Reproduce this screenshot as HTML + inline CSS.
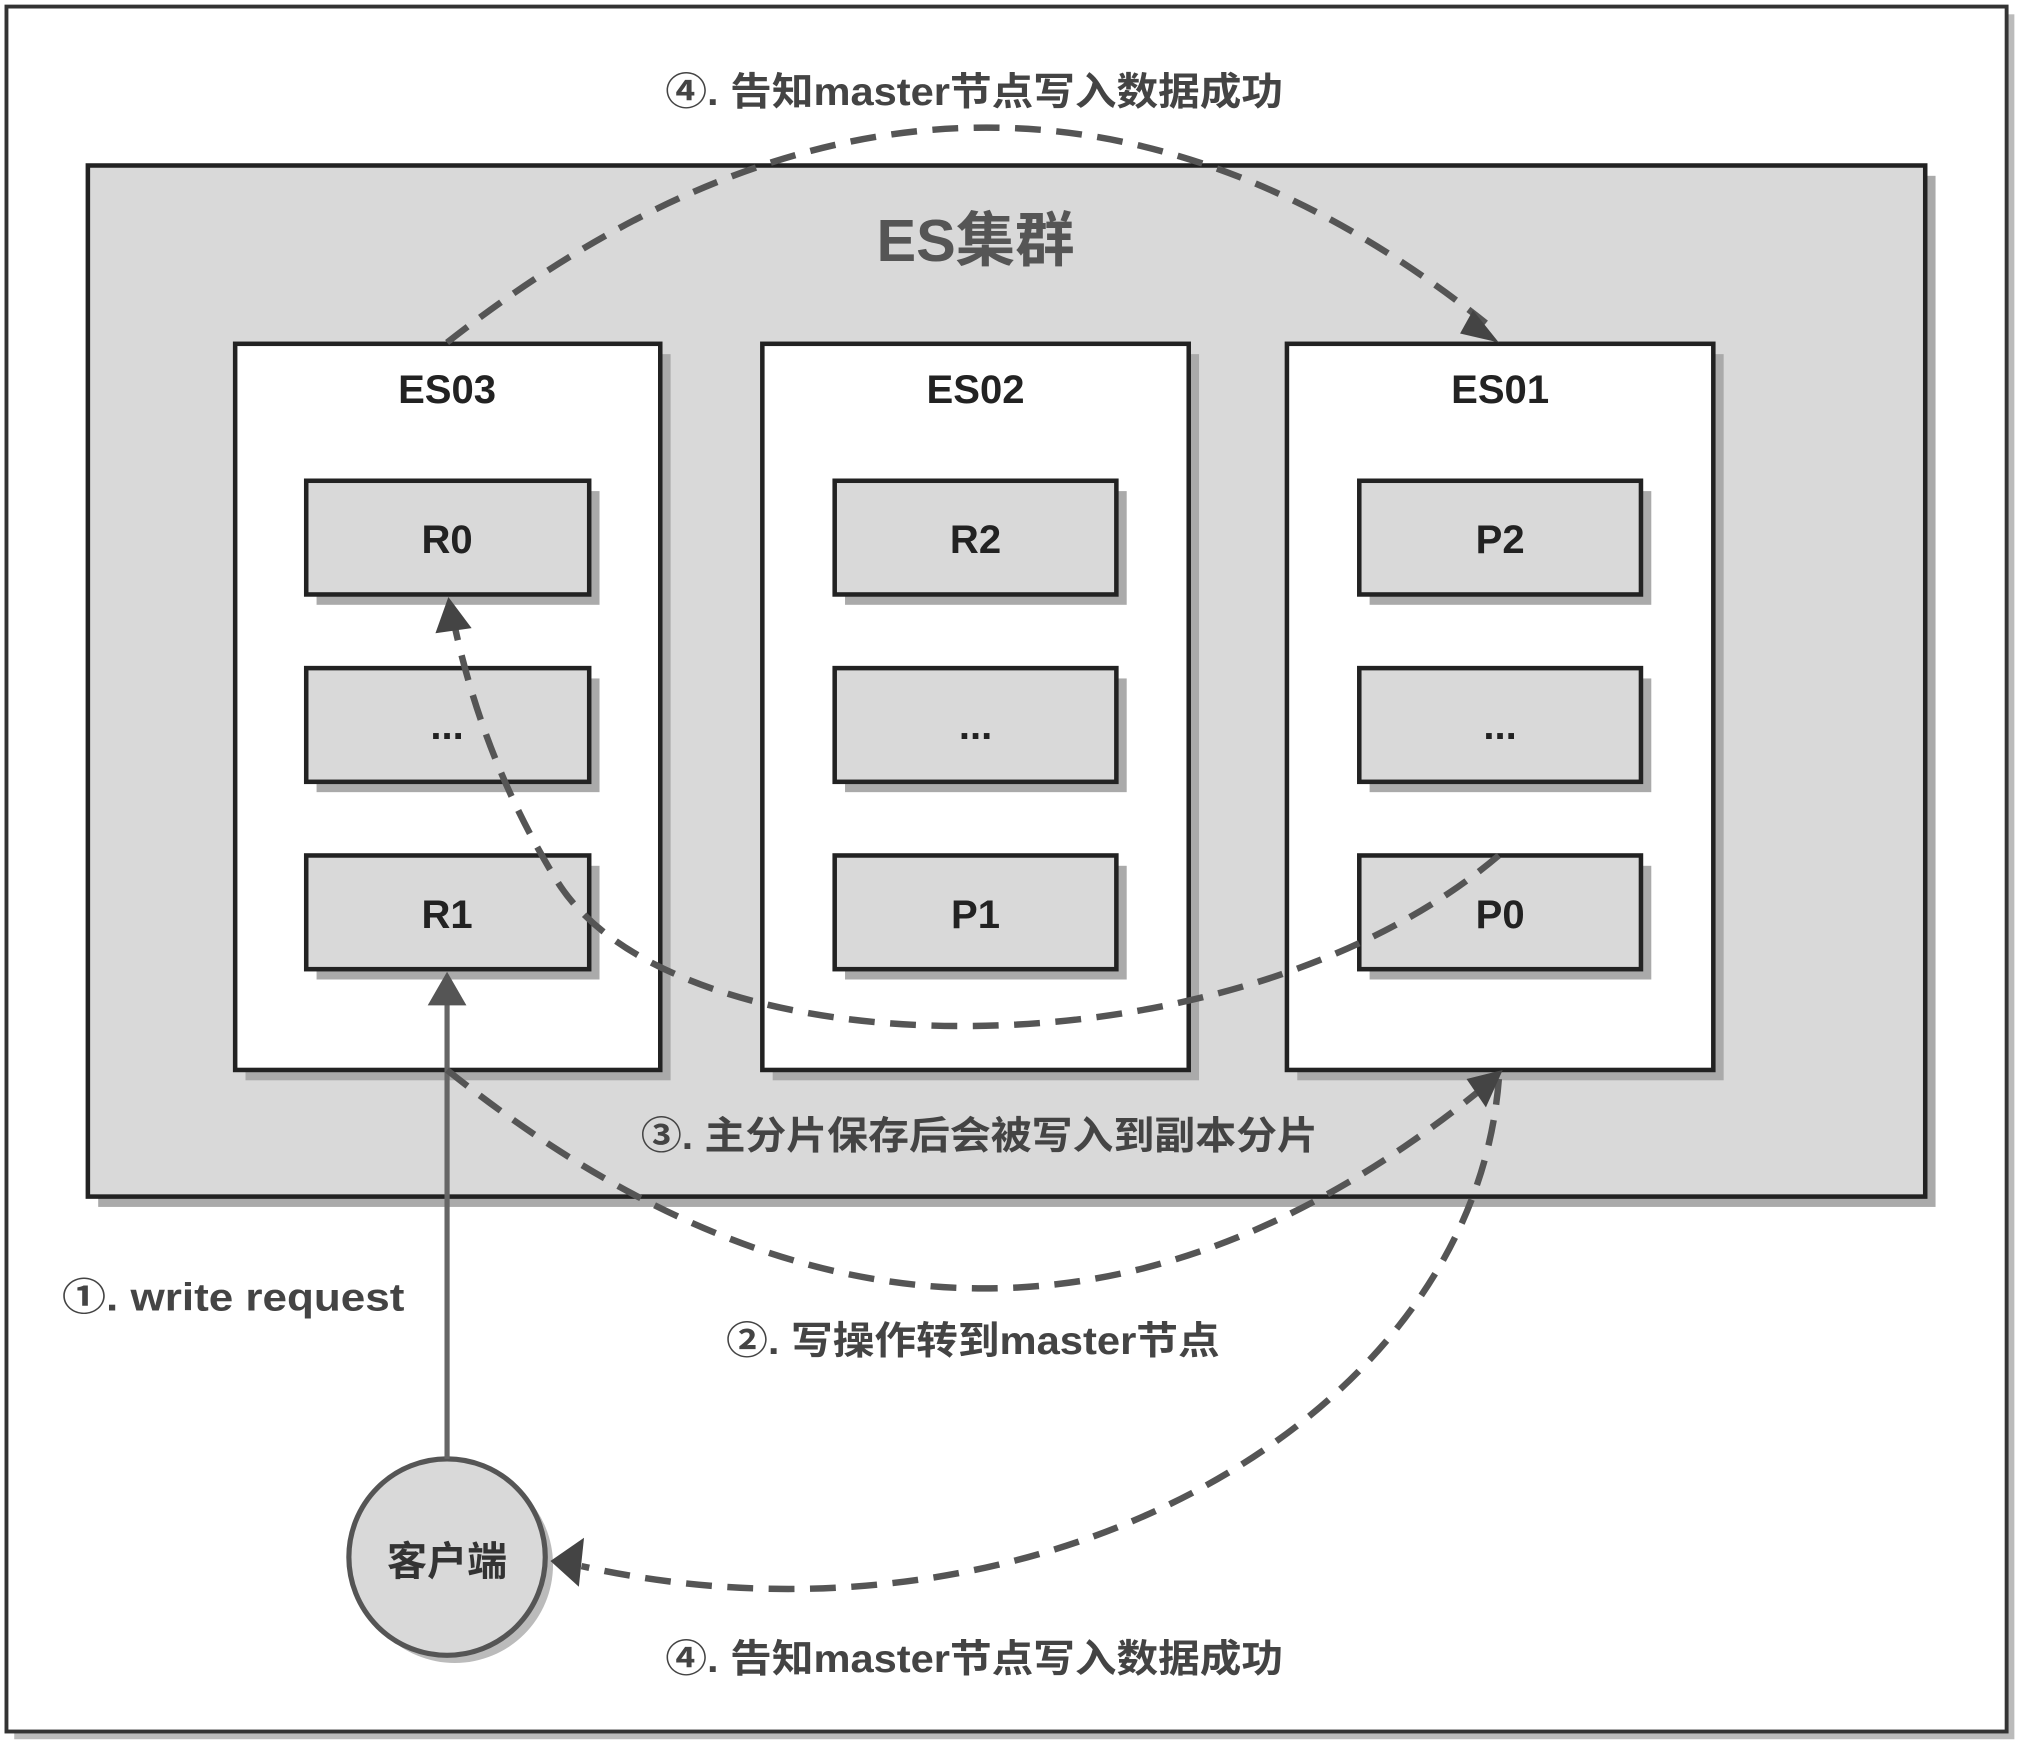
<!DOCTYPE html>
<html><head><meta charset="utf-8"><style>
html,body{margin:0;padding:0;background:#fff;}
svg{display:block;}
text{font-family:"Liberation Sans","Noto Sans CJK SC",sans-serif;font-weight:bold;}
</style></head><body>
<svg width="2026" height="1751" viewBox="0 0 1568 1355" xmlns="http://www.w3.org/2000/svg">
<!-- outer frame -->
<rect x="11" y="11" width="1548" height="1335" fill="#bbb"/>
<rect x="5" y="5" width="1548" height="1335" fill="#fff" stroke="#333" stroke-width="3"/>
<!-- cluster -->
<rect x="76" y="136" width="1422" height="798" fill="#aaa"/>
<rect x="68" y="128" width="1422" height="798" fill="#d9d9d9" stroke="#222" stroke-width="3.5"/>
<text x="755" y="202" font-size="46" fill="#555" text-anchor="middle">ES集群</text>
<!-- nodes -->
<g>
<rect x="190" y="274" width="329" height="562" fill="#aaa"/>
<rect x="182" y="266" width="329" height="562" fill="#fff" stroke="#222" stroke-width="3.5"/>
<rect x="598" y="274" width="330" height="562" fill="#aaa"/>
<rect x="590" y="266" width="330" height="562" fill="#fff" stroke="#222" stroke-width="3.5"/>
<rect x="1004" y="274" width="330" height="562" fill="#aaa"/>
<rect x="996" y="266" width="330" height="562" fill="#fff" stroke="#222" stroke-width="3.5"/>
<text x="346" y="312" font-size="31" fill="#222" text-anchor="middle">ES03</text>
<text x="755" y="312" font-size="31" fill="#222" text-anchor="middle">ES02</text>
<text x="1161" y="312" font-size="31" fill="#222" text-anchor="middle">ES01</text>
</g>
<!-- shards -->
<g font-size="31" fill="#222" text-anchor="middle">
<g>
<rect x="245" y="380" width="219" height="88" fill="#aaa"/><rect x="237" y="372" width="219" height="88" fill="#d9d9d9" stroke="#222" stroke-width="3.5"/>
<rect x="245" y="525" width="219" height="88" fill="#aaa"/><rect x="237" y="517" width="219" height="88" fill="#d9d9d9" stroke="#222" stroke-width="3.5"/>
<rect x="245" y="670" width="219" height="88" fill="#aaa"/><rect x="237" y="662" width="219" height="88" fill="#d9d9d9" stroke="#222" stroke-width="3.5"/>
<rect x="654" y="380" width="218" height="88" fill="#aaa"/><rect x="646" y="372" width="218" height="88" fill="#d9d9d9" stroke="#222" stroke-width="3.5"/>
<rect x="654" y="525" width="218" height="88" fill="#aaa"/><rect x="646" y="517" width="218" height="88" fill="#d9d9d9" stroke="#222" stroke-width="3.5"/>
<rect x="654" y="670" width="218" height="88" fill="#aaa"/><rect x="646" y="662" width="218" height="88" fill="#d9d9d9" stroke="#222" stroke-width="3.5"/>
<rect x="1060" y="380" width="218" height="88" fill="#aaa"/><rect x="1052" y="372" width="218" height="88" fill="#d9d9d9" stroke="#222" stroke-width="3.5"/>
<rect x="1060" y="525" width="218" height="88" fill="#aaa"/><rect x="1052" y="517" width="218" height="88" fill="#d9d9d9" stroke="#222" stroke-width="3.5"/>
<rect x="1060" y="670" width="218" height="88" fill="#aaa"/><rect x="1052" y="662" width="218" height="88" fill="#d9d9d9" stroke="#222" stroke-width="3.5"/>
</g>
<text x="346" y="428">R0</text><text x="346" y="572">...</text><text x="346" y="718">R1</text>
<text x="755" y="428">R2</text><text x="755" y="572">...</text><text x="755" y="718">P1</text>
<text x="1161" y="428">P2</text><text x="1161" y="572">...</text><text x="1161" y="718">P0</text>
</g>
<!-- client -->
<circle cx="352" cy="1211" r="76" fill="#bbb"/>
<circle cx="346" cy="1205" r="76" fill="#d9d9d9" stroke="#555" stroke-width="4"/>
<text x="346" y="1219" font-size="31" fill="#333" text-anchor="middle">客户端</text>
<!-- solid arrow -->
<line x1="346" y1="1129" x2="346" y2="775" stroke="#666" stroke-width="4"/>
<polygon points="346,752 331,778 361,778" fill="#555"/>
<!-- dashed curves -->
<g fill="none" stroke="#555" stroke-width="5" stroke-dasharray="20 12">
<path d="M346,265 Q760,-60 1150,250"/>
<path d="M1160,662 C950,840 520,830 430,680 Q375,590 352,485"/>
<path d="M346,828 Q760,1160 1150,840"/>
<path d="M1160,835 C1140,1100 800,1290 450,1212"/>
</g>
<polygon points="1160,265 1140,240 1130,258" fill="#444"/>
<polygon points="347,462 337,490 365,486" fill="#444"/>
<polygon points="1163,828 1135,835 1150,857" fill="#444"/>
<polygon points="426,1208 452,1190 448,1228" fill="#444"/>
<!-- labels -->
<g font-size="30" fill="#444" lengthAdjust="spacingAndGlyphs">
<text x="515" y="81" textLength="478" lengthAdjust="spacingAndGlyphs">④. 告知master节点写入数据成功</text>
<text x="496" y="889" textLength="524" lengthAdjust="spacingAndGlyphs">③. 主分片保存后会被写入到副本分片</text>
<text x="562" y="1048" textLength="382" lengthAdjust="spacingAndGlyphs">②. 写操作转到master节点</text>
<text x="515" y="1294" textLength="478" lengthAdjust="spacingAndGlyphs">④. 告知master节点写入数据成功</text>
<text x="48" y="1014" textLength="265" lengthAdjust="spacingAndGlyphs">①. write request</text>
</g>
</svg>
</body></html>
